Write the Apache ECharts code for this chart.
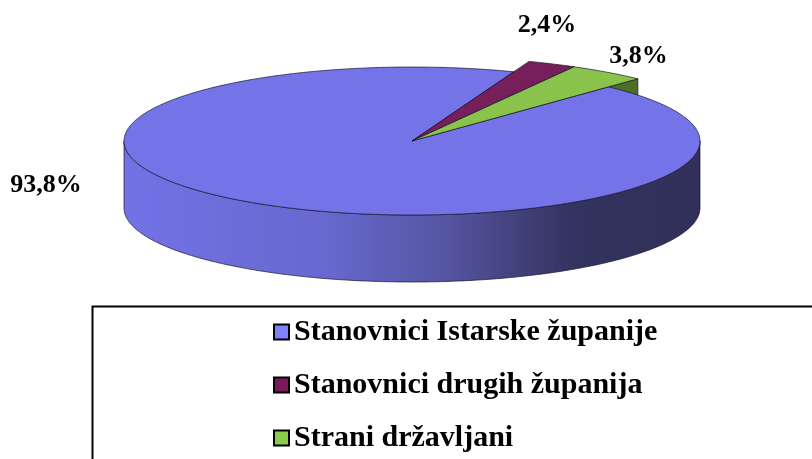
<!DOCTYPE html>
<html>
<head>
<meta charset="utf-8">
<script src="https://cdn.jsdelivr.net/npm/echarts@6/dist/echarts.min.js"></script>
<style>html,body{margin:0;padding:0;background:#fff}#c{width:812px;height:459px}</style>
</head>
<body>
<div id="c"></div>
<script>
// ---- data ----
const categories = ['Stanovnici Istarske županije', 'Stanovnici drugih županija', 'Strani državljani'];
const shares = [93.8, 2.4, 3.8];
const labelTexts = ['93,8%', '2,4%', '3,8%'];

// ---- style / layout ----
const topColors = ['#7474E8', '#771F5A', '#89C34B'];
const wallColors = ['#5a5ab8', '#4a1238', '#4d6e28'];
const legendColors = ['#8080FF', '#7A1A5A', '#8CCC4C'];
const radiusScale = [1, 1.15, 1.15];
const labelOffsets = [[-214, -19], [-5, -39], [31, -16]];
const L = { cx: 412, cy: 141, rx: 288, ry: 74, depth: 67, start: 43 };
const FONT = '"Liberation Serif", "Times New Roman", serif';

const total = shares.reduce((a, b) => a + b, 0);
const rad = d => d * Math.PI / 180;
function P(deg, r, dz) {
  return [L.cx + L.rx * r * Math.sin(rad(deg)), L.cy - L.ry * r * Math.cos(rad(deg)) + dz];
}
function arc(a0, a1, r, dz) {
  const pts = [];
  const n = Math.max(2, Math.ceil(Math.abs(a1 - a0) / 1));
  for (let i = 0; i <= n; i++) pts.push(P(a0 + (a1 - a0) * i / n, r, dz));
  return pts;
}
const frontWallGrad = {
  type: 'linear', x: 0, y: 0, x2: 1, y2: 0,
  colorStops: [
    { offset: 0, color: '#7272e6' },
    { offset: 0.35, color: '#6868cf' },
    { offset: 0.55, color: '#5656a4' },
    { offset: 0.78, color: '#33335f' },
    { offset: 1, color: '#30305a' }
  ]
};

function renderItem(params, api) {
  const idx = params.seriesIndex;
  const v = api.value(0);
  let before = 0;
  for (let i = 0; i < idx; i++) before += shares[i];
  const a0 = L.start + before / total * 360;
  const a1 = a0 + v / total * 360;
  const r = radiusScale[idx];
  const small = idx > 0;
  const children = [];
  const line = { stroke: 'rgba(20,20,40,0.85)', lineWidth: 0.8 };

  // outer (front-facing) wall
  const ranges = [[90, 270], [450, 630]];
  ranges.forEach(([s, e]) => {
    const ss = Math.max(s, a0), ee = Math.min(e, a1);
    if (ee > ss) {
      const pts = arc(ss, ee, r, 0).concat(arc(ee, ss, r, L.depth));
      children.push({
        type: 'polygon', z2: small ? 1 : 2,
        shape: { points: pts },
        style: Object.assign({ fill: idx === 0 ? frontWallGrad : wallColors[idx] }, line)
      });
    }
  });
  // radial walls (front-facing only)
  [[a0, a0 - 90], [a1, a1 + 90]].forEach(([ang, normal]) => {
    const nn = ((normal % 360) + 360) % 360;
    if (nn > 90 && nn < 270) {
      const pts = [P(0, 0, 0), P(ang, r, 0), P(ang, r, L.depth), P(0, 0, L.depth)];
      children.push({
        type: 'polygon', z2: small ? 1 : 2,
        shape: { points: pts },
        style: Object.assign({ fill: wallColors[idx] }, line)
      });
    }
  });
  // top face
  const topPts = [P(0, 0, 0)].concat(arc(a0, a1, r, 0));
  children.push({
    type: 'polygon', z2: small ? 4 : 3,
    shape: { points: topPts },
    style: Object.assign({ fill: topColors[idx] }, line)
  });
  // label
  const mid = (a0 + a1) / 2;
  const anchor = P(mid, r, 0);
  children.push({
    type: 'text', z2: 6,
    style: {
      text: labelTexts[idx],
      x: anchor[0] + labelOffsets[idx][0],
      y: anchor[1] + labelOffsets[idx][1],
      align: 'center', verticalAlign: 'middle',
      font: 'bold 26px ' + FONT, fill: '#000'
    }
  });
  return { type: 'group', children };
}

const chart = echarts.init(document.getElementById('c'), null, { renderer: 'canvas' });
chart.setOption({
  animation: false,
  backgroundColor: '#fff',
  legend: {
    orient: 'vertical', left: 273, top: 317, padding: 0, height: 200,
    itemWidth: 15, itemHeight: 15, itemGap: 23, icon: 'rect',
    itemStyle: { borderColor: '#000', borderWidth: 2 },
    textStyle: { fontFamily: FONT, fontWeight: 'bold', fontSize: 30, color: '#000', lineHeight: 30 },
    data: categories.map((n, i) => ({ name: n, itemStyle: { color: legendColors[i] } }))
  },
  graphic: [{
    type: 'rect', left: 90, top: 304, z: -1,
    shape: { width: 760, height: 200 },
    style: { fill: 'none', stroke: '#000', lineWidth: 2 }
  }],
  series: categories.map((name, i) => ({
    type: 'custom', name,
    coordinateSystem: 'none',
    itemStyle: { color: legendColors[i] },
    data: [[shares[i]]],
    renderItem
  }))
});
</script>
</body>
</html>
